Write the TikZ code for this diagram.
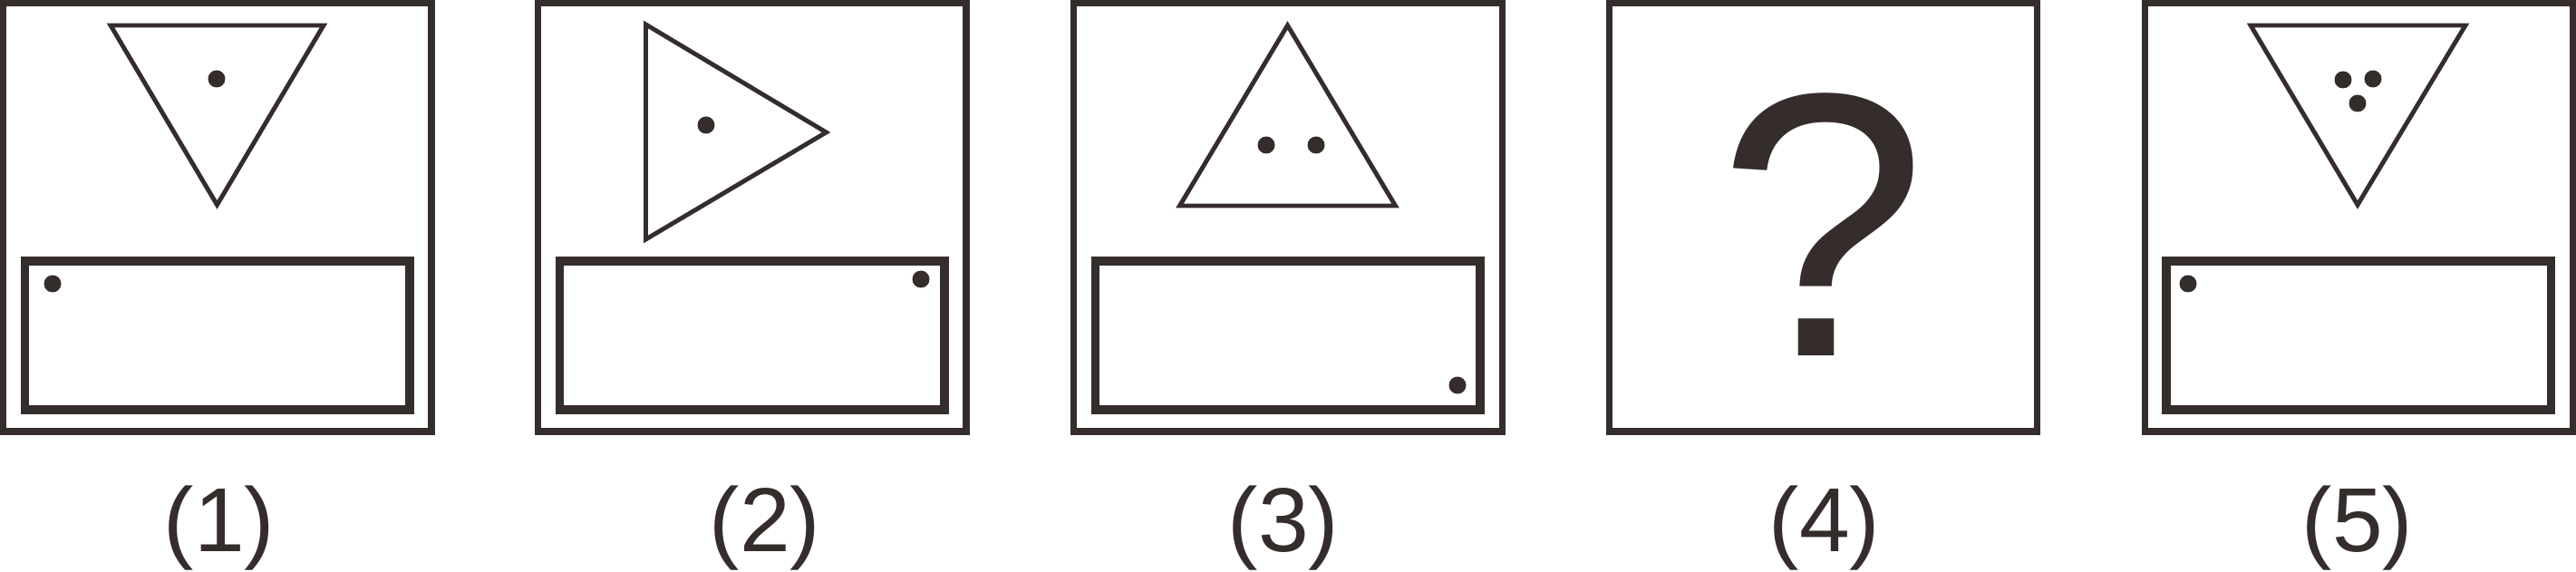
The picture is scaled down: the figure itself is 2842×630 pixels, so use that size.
\documentclass[tikz,border=0pt]{standalone}
\usepackage{fontspec}
\setmainfont{Liberation Sans}
\definecolor{ink}{RGB}{53,45,44}
\tikzset{
  frame/.style = {draw=ink, line width=2pt},
  plate/.style = {draw=ink, line width=2.7pt},
  tri/.style = {draw=ink, line width=1.4pt, line join=miter},
  pip/.style = {fill=ink},
  numlab/.style = {text=ink, anchor=base, inner sep=0pt, font=\fontsize{28.5}{30}\selectfont},
}
\begin{document}
\begin{tikzpicture}[x=0.01cm, y=0.01cm]
	\useasboundingbox (0,0) rectangle (2842,630);
	% the five squares
	\foreach \x in {3.5, 593.5, 1184.5, 1775, 2366}
	  \draw [frame] (\x,626.5) rectangle + (472.5,-472.5);
	% the plates under the triangles
	\foreach \x in {3.5, 593.5, 1184.5, 2366}
	  \draw [plate] (\x+24,342) rectangle (\x+448.5,178);

	% (1)
	\begin{scope}[shift={(3.5,0)}]
	 \draw [tri] (118.5,602) -- (353.5,602) -- (236,404) -- cycle;
	 \fill [pip] (235.5,543) circle [radius=9.5];
	 \fill [pip] (54.5,317) circle [radius=9.5];
	\end{scope}
	% (2)
	\begin{scope}[shift={(593.5,0)}]
	 \draw [tri] (119,603) -- (318,484) -- (119,366) -- cycle;
	 \fill [pip] (185.5,492) circle [radius=9.5];
	 \fill [pip] (422.5,322) circle [radius=9.5];
	\end{scope}
	% (3)
	\begin{scope}[shift={(1184.5,0)}]
	 \draw [tri] (236,602) -- (355,403) -- (117,403) -- cycle;
	 \foreach \d in {212.5, 267.5} \fill [pip] (\d,470) circle [radius=9.5];
	 \fill [pip] (423.5,205) circle [radius=9.5];
	\end{scope}
	% (4)
	\node [text=ink, anchor=base, inner sep=0pt, font=\fontsize{118}{120}\selectfont] (ask) at (2011,238) {?};
	% (5)
	\begin{scope}[shift={(2366,0)}]
	 \draw [tri] (117,602) -- (354,602) -- (235,404) -- cycle;
	 \fill [pip] (219,542) circle [radius=9.5];
	 \fill [pip] (252,543) circle [radius=9.5];
	 \fill [pip] (235,516) circle [radius=9.5];
	 \fill [pip] (48,317) circle [radius=9.5];
	\end{scope}

	% numbers under the squares
	\foreach \n/\x in {1/242, 2/844, 3/1416, 4/2013, 5/2601}
	  \node [numlab] (lab\n) at (\x,22) {(\n)};
\end{tikzpicture}
\end{document}
